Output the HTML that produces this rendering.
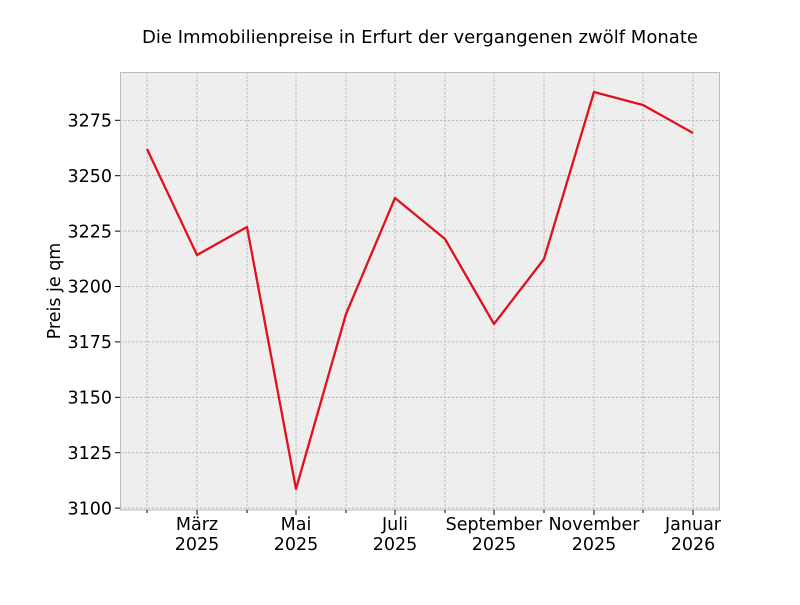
<!DOCTYPE html>
<html><head><meta charset="utf-8"><style>body{margin:0;background:#fff}</style></head><body>
<svg width="800" height="600" xmlns="http://www.w3.org/2000/svg" font-family="DejaVu Sans, Liberation Sans, sans-serif">
<rect width="800" height="600" fill="#fff"/>
<text x="420" y="43" font-size="17.5" text-anchor="middle" fill="#000" textLength="556" lengthAdjust="spacingAndGlyphs">Die Immobilienpreise in Erfurt der vergangenen zwölf Monate</text>
<rect x="120.5" y="72.5" width="599" height="437.5" fill="#eeeeee" stroke="#bcbcbc" stroke-width="1"/>
<g stroke="#b2b2b2" stroke-width="0.8" stroke-dasharray="2.5,1.5">
<line x1="147" y1="72" x2="147" y2="510"/><line x1="197" y1="72" x2="197" y2="510"/><line x1="247" y1="72" x2="247" y2="510"/><line x1="296" y1="72" x2="296" y2="510"/><line x1="346" y1="72" x2="346" y2="510"/><line x1="395" y1="72" x2="395" y2="510"/><line x1="445" y1="72" x2="445" y2="510"/><line x1="494" y1="72" x2="494" y2="510"/><line x1="544" y1="72" x2="544" y2="510"/><line x1="594" y1="72" x2="594" y2="510"/><line x1="643" y1="72" x2="643" y2="510"/><line x1="693" y1="72" x2="693" y2="510"/>
<line x1="120" y1="120.3" x2="720" y2="120.3"/><line x1="120" y1="175.7" x2="720" y2="175.7"/><line x1="120" y1="231.1" x2="720" y2="231.1"/><line x1="120" y1="286.5" x2="720" y2="286.5"/><line x1="120" y1="341.9" x2="720" y2="341.9"/><line x1="120" y1="397.3" x2="720" y2="397.3"/><line x1="120" y1="452.7" x2="720" y2="452.7"/><line x1="120" y1="508.1" x2="720" y2="508.1"/>
</g>
<g stroke="#000" stroke-width="1">
<line x1="115" y1="120.3" x2="120" y2="120.3"/><line x1="115" y1="175.7" x2="120" y2="175.7"/><line x1="115" y1="231.1" x2="120" y2="231.1"/><line x1="115" y1="286.5" x2="120" y2="286.5"/><line x1="115" y1="341.9" x2="120" y2="341.9"/><line x1="115" y1="397.3" x2="120" y2="397.3"/><line x1="115" y1="452.7" x2="120" y2="452.7"/><line x1="115" y1="508.1" x2="120" y2="508.1"/>
<line x1="197" y1="510" x2="197" y2="515"/><line x1="296" y1="510" x2="296" y2="515"/><line x1="395" y1="510" x2="395" y2="515"/><line x1="494" y1="510" x2="494" y2="515"/><line x1="594" y1="510" x2="594" y2="515"/><line x1="693" y1="510" x2="693" y2="515"/>
<line x1="147" y1="510" x2="147" y2="513"/><line x1="247" y1="510" x2="247" y2="513"/><line x1="346" y1="510" x2="346" y2="513"/><line x1="445" y1="510" x2="445" y2="513"/><line x1="544" y1="510" x2="544" y2="513"/><line x1="643" y1="510" x2="643" y2="513"/>
</g>
<g font-size="17.5" fill="#000" text-anchor="end">
<text x="112" y="126.5">3275</text><text x="112" y="182">3250</text><text x="112" y="237.5">3225</text><text x="112" y="292.5">3200</text><text x="112" y="348">3175</text><text x="112" y="403.5">3150</text><text x="112" y="459">3125</text><text x="112" y="514.5">3100</text>
</g>
<g font-size="17.5" fill="#000" text-anchor="middle">
<text x="197" y="530">März</text><text x="197" y="550">2025</text>
<text x="296" y="530">Mai</text><text x="296" y="550">2025</text>
<text x="395" y="530">Juli</text><text x="395" y="550">2025</text>
<text x="494" y="530">September</text><text x="494" y="550">2025</text>
<text x="594" y="530">November</text><text x="594" y="550">2025</text>
<text x="693" y="530">Januar</text><text x="693" y="550">2026</text>
</g>
<text transform="translate(60,291) rotate(-90)" font-size="17.5" text-anchor="middle" fill="#000">Preis je qm</text>
<polyline fill="none" stroke="#e3101e" stroke-width="2.3" stroke-linejoin="round" points="147,149 197,255 247,227 296,489 346,314 395,198 445,239 494,324 544,259 594,92 643,105 693,133"/>
</svg>
</body></html>
